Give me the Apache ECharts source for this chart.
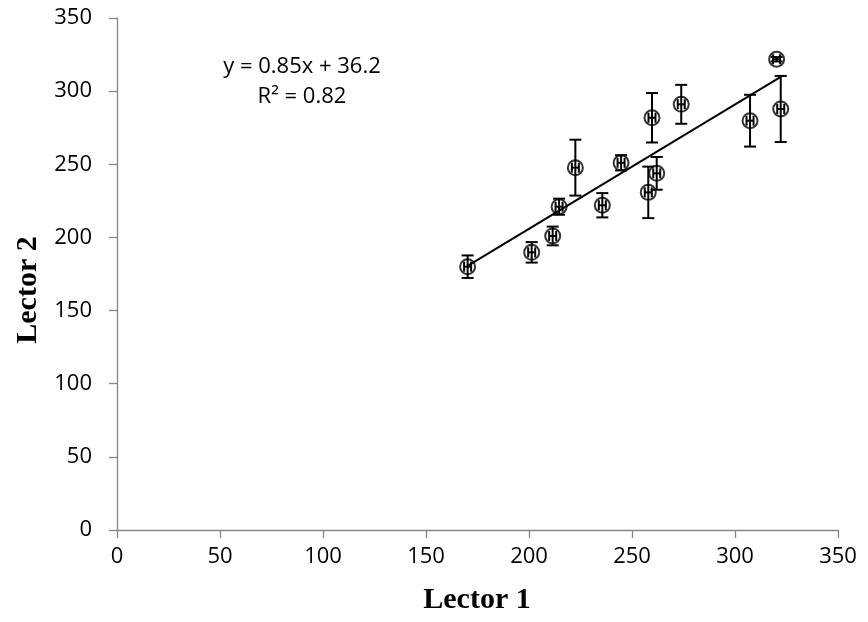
<!DOCTYPE html>
<html>
<head>
<meta charset="utf-8">
<script src="https://cdn.jsdelivr.net/npm/echarts@6/dist/echarts.min.js"></script>
<style>html,body{margin:0;padding:0;background:#fff}#c{width:868px;height:622px}</style>
</head>
<body>
<div id="c"></div>
<script>
// Data
const xVals = [170.2, 201.3, 211.5, 214.6, 222.5, 235.6, 244.7, 257.9, 262.0, 259.7, 273.9, 307.3, 322.2, 320.2];
const yVals = [180.0, 189.8, 201.0, 221.0, 247.7, 222.0, 251.0, 230.8, 243.8, 281.8, 291.0, 279.8, 287.8, 321.8];
const yErr  = [7.7, 7.0, 6.4, 5.5, 19.1, 8.3, 5.2, 17.6, 11.2, 16.9, 13.3, 17.7, 22.6, 1.5];
const xErr  = [1.7, 1.7, 1.7, 1.7, 1.7, 1.7, 1.7, 1.7, 1.7, 1.7, 1.7, 1.7, 1.7, 1.7];
const trendX = [170.2, 322.2];
const trendY = [180.5, 309.8];
const xTicks = [0, 50, 100, 150, 200, 250, 300, 350];
const yTicks = [0, 50, 100, 150, 200, 250, 300, 350];
const eqLine1 = 'y = 0.85x + 36.2';
const eqLine2 = 'R² = 0.82';
const xTitle = 'Lector 1';
const yTitle = 'Lector 2';

const chart = echarts.init(document.getElementById('c'), null, {renderer: 'canvas'});
const labelFont = {color: '#000', fontFamily: 'Open Sans', fontSize: 22};
const axisCol = '#868686';

const pts = xVals.map((x, i) => [x, yVals[i]]);
const errData = xVals.map((x, i) => [x, yVals[i], yErr[i], xErr[i]]);
const trend = trendX.map((x, i) => [x, trendY[i]]);

function renderErr(params, api) {
  const x = api.value(0), y = api.value(1), ey = api.value(2), ex = api.value(3);
  const top = api.coord([x, y + ey]);
  const bot = api.coord([x, y - ey]);
  const lft = api.coord([x - ex, y]);
  const rgt = api.coord([x + ex, y]);
  const cap = 6, hcap = 5;
  const style = {stroke: '#000', lineWidth: 2};
  const L = (x1, y1, x2, y2) => ({type: 'line', shape: {x1, y1, x2, y2}, style});
  return {type: 'group', children: [
    L(top[0], top[1], bot[0], bot[1]),
    L(top[0] - cap, top[1], top[0] + cap, top[1]),
    L(bot[0] - cap, bot[1], bot[0] + cap, bot[1]),
    L(lft[0], lft[1], rgt[0], rgt[1]),
    L(lft[0], lft[1] - hcap, lft[0], lft[1] + hcap),
    L(rgt[0], rgt[1] - hcap, rgt[0], rgt[1] + hcap)
  ]};
}

chart.setOption({
  animation: false,
  backgroundColor: '#fff',
  grid: {left: 117, right: 30, top: 18, bottom: 92, containLabel: false},
  xAxis: {
    type: 'value', min: xTicks[0], max: xTicks[xTicks.length - 1], interval: xTicks[1] - xTicks[0],
    axisLine: {show: true, lineStyle: {color: axisCol, width: 1.3}},
    axisTick: {show: true, inside: false, length: 8, lineStyle: {color: axisCol, width: 1.3}},
    splitLine: {show: false},
    axisLabel: Object.assign({margin: 16}, labelFont)
  },
  yAxis: {
    type: 'value', min: yTicks[0], max: yTicks[yTicks.length - 1], interval: yTicks[1] - yTicks[0],
    axisLine: {show: true, lineStyle: {color: axisCol, width: 1.3}},
    axisTick: {show: true, inside: false, length: 8, lineStyle: {color: axisCol, width: 1.3}},
    splitLine: {show: false},
    axisLabel: Object.assign({margin: 25}, labelFont)
  },
  graphic: [
    {type: 'text', x: 302, y: 67, style: {text: eqLine1, x: 0, y: 0, textAlign: 'center', textVerticalAlign: 'middle', fill: '#000', font: '22px "Open Sans"'}},
    {type: 'text', x: 302, y: 97, style: {text: eqLine2, x: 0, y: 0, textAlign: 'center', textVerticalAlign: 'middle', fill: '#000', font: '22px "Open Sans"'}},
    {type: 'text', x: 477, y: 600, style: {text: xTitle, x: 0, y: 0, textAlign: 'center', textVerticalAlign: 'middle', fill: '#000', font: 'bold 30px "Liberation Serif"'}},
    {type: 'text', x: 28, y: 290, rotation: Math.PI / 2, style: {text: yTitle, x: 0, y: 0, textAlign: 'center', textVerticalAlign: 'middle', fill: '#000', font: 'bold 30px "Liberation Serif"'}}
  ],
  series: [
    {type: 'line', data: trend, showSymbol: false, symbol: 'none', lineStyle: {color: '#000', width: 2}, z: 2},
    {type: 'custom', data: errData, renderItem: renderErr, encode: {x: 0, y: 1}, z: 3},
    {type: 'scatter', data: pts, symbol: 'circle', symbolSize: 15,
      itemStyle: {color: 'rgba(0,0,0,0)', borderColor: '#000', borderWidth: 2}, z: 4}
  ]
});
</script>
</body>
</html>
